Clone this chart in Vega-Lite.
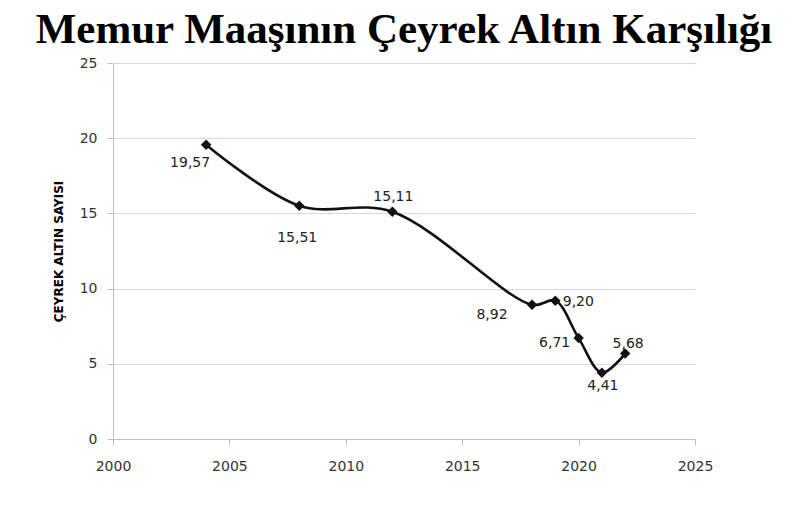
{
  "$schema": "https://vega.github.io/schema/vega-lite/v6.json",
  "autosize": "none",
  "width": 582,
  "height": 376,
  "padding": {"left": 113, "top": 63, "right": 102, "bottom": 72},
  "background": "white",
  "config": {
    "locale": {"number": {"decimal": ",", "thousands": ".", "grouping": [3], "currency": ["", " TL"]}},
    "view": {"stroke": null},
    "axis": {
      "labelFont": "DejaVu Sans",
      "labelFontSize": 14,
      "labelColor": "#333333",
      "domainColor": "#bfbfbf",
      "tickColor": "#bfbfbf",
      "gridColor": "#d9d9d9",
      "tickSize": 6
    }
  },
  "title": {
    "text": "Memur Maaşının Çeyrek Altın Karşılığı",
    "font": "Liberation Serif",
    "fontSize": 43,
    "fontWeight": "bold",
    "color": "#000000",
    "anchor": "middle",
    "offset": 4
  },
  "data": {
    "values": [
      {"yil": 2004, "adet": 19.57},
      {"yil": 2008, "adet": 15.51},
      {"yil": 2012, "adet": 15.11},
      {"yil": 2018, "adet": 8.92},
      {"yil": 2019, "adet": 9.20},
      {"yil": 2020, "adet": 6.71},
      {"yil": 2021, "adet": 4.41},
      {"yil": 2022, "adet": 5.68}
    ]
  },
  "encoding": {
    "x": {
      "field": "yil", "type": "quantitative",
      "scale": {"domain": [2000, 2025], "nice": false, "zero": false},
      "axis": {"title": null, "values": [2000, 2005, 2010, 2015, 2020, 2025], "format": "d", "grid": false, "labelPadding": 14, "labelFlush": false}
    },
    "y": {
      "field": "adet", "type": "quantitative",
      "scale": {"domain": [0, 25], "nice": false},
      "axis": {
        "title": "ÇEYREK ALTIN SAYISI",
        "titleFont": "DejaVu Sans",
        "titleFontSize": 12,
        "titleFontWeight": "bold",
        "titleColor": "#000000",
        "titlePadding": 14,
        "values": [0, 5, 10, 15, 20, 25],
        "labelPadding": 10,
        "grid": true
      }
    }
  },
  "layer": [
    {"mark": {"type": "line", "interpolate": "catmull-rom", "color": "#111111", "strokeWidth": 2.6}},
    {"mark": {"type": "point", "shape": "diamond", "filled": true, "color": "#111111", "size": 110, "opacity": 1}},
    {"transform": [{"filter": "datum.yil == 2004"}], "mark": {"type": "text", "font": "DejaVu Sans", "fontSize": 14, "color": "#222222", "dx": -16, "dy": 18}, "encoding": {"text": {"field": "adet", "type": "quantitative", "format": ".2f"}}},
    {"transform": [{"filter": "datum.yil == 2008"}], "mark": {"type": "text", "font": "DejaVu Sans", "fontSize": 14, "color": "#222222", "dx": -2, "dy": 32}, "encoding": {"text": {"field": "adet", "type": "quantitative", "format": ".2f"}}},
    {"transform": [{"filter": "datum.yil == 2012"}], "mark": {"type": "text", "font": "DejaVu Sans", "fontSize": 14, "color": "#222222", "dx": 1, "dy": -15}, "encoding": {"text": {"field": "adet", "type": "quantitative", "format": ".2f"}}},
    {"transform": [{"filter": "datum.yil == 2018"}], "mark": {"type": "text", "font": "DejaVu Sans", "fontSize": 14, "color": "#222222", "dx": -40, "dy": 10}, "encoding": {"text": {"field": "adet", "type": "quantitative", "format": ".2f"}}},
    {"transform": [{"filter": "datum.yil == 2019"}], "mark": {"type": "text", "font": "DejaVu Sans", "fontSize": 14, "color": "#222222", "dx": 23, "dy": 1}, "encoding": {"text": {"field": "adet", "type": "quantitative", "format": ".2f"}}},
    {"transform": [{"filter": "datum.yil == 2020"}], "mark": {"type": "text", "font": "DejaVu Sans", "fontSize": 14, "color": "#222222", "dx": -24, "dy": 5}, "encoding": {"text": {"field": "adet", "type": "quantitative", "format": ".2f"}}},
    {"transform": [{"filter": "datum.yil == 2021"}], "mark": {"type": "text", "font": "DejaVu Sans", "fontSize": 14, "color": "#222222", "dx": 1, "dy": 13}, "encoding": {"text": {"field": "adet", "type": "quantitative", "format": ".2f"}}},
    {"transform": [{"filter": "datum.yil == 2022"}], "mark": {"type": "text", "font": "DejaVu Sans", "fontSize": 14, "color": "#222222", "dx": 3, "dy": -10}, "encoding": {"text": {"field": "adet", "type": "quantitative", "format": ".2f"}}}
  ]
}
